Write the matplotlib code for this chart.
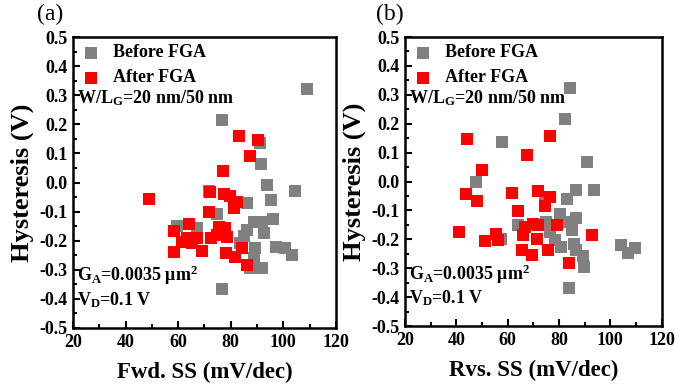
import matplotlib
matplotlib.use('Agg')
import matplotlib.pyplot as plt
from matplotlib.ticker import AutoMinorLocator, MultipleLocator

plt.rcParams['font.family'] = ['Liberation Serif', 'DejaVu Serif']
plt.rcParams['font.weight'] = 'bold'
plt.rcParams['mathtext.fontset'] = 'custom'
plt.rcParams['mathtext.rm'] = 'Liberation Serif:bold'
plt.rcParams['mathtext.bf'] = 'Liberation Serif:bold'
plt.rcParams['mathtext.it'] = 'Liberation Serif:bold:italic'

# (a) forward SS vs hysteresis
fwd_before_ss = [108.9, 76.8, 91.1, 91.4, 93.6, 104.3, 95.2, 86.0, 71.7, 74.9, 59.6, 67.2,
                 88.8, 92.0, 96.2, 86.0, 92.6, 83.7, 89.4, 97.1, 100.5, 103.4, 88.8, 87.3,
                 92.0, 76.8, 85.0]
fwd_before_hys = [0.320, 0.214, 0.135, 0.063, -0.009, -0.030, -0.060, -0.070, -0.029, -0.107,
                  -0.148, -0.158, -0.136, -0.136, -0.127, -0.164, -0.175, -0.209, -0.226,
                  -0.221, -0.225, -0.249, -0.260, -0.294, -0.294, -0.366, -0.185]
fwd_after_ss = [83.2, 90.4, 87.5, 77.0, 48.9, 72.1, 77.3, 79.9, 82.3, 81.1, 71.6, 64.0,
                58.6, 75.5, 78.0, 63.4, 67.2, 72.3, 74.9, 78.7, 65.3, 58.6, 69.1, 78.3,
                84.3, 81.8, 86.0, 61.5]
fwd_after_hys = [0.159, 0.146, 0.092, 0.039, -0.055, -0.034, -0.040, -0.047, -0.067, -0.088,
                 -0.102, -0.141, -0.168, -0.153, -0.158, -0.192, -0.192, -0.192, -0.181,
                 -0.186, -0.208, -0.238, -0.236, -0.243, -0.226, -0.255, -0.283, -0.205]

# (b) reverse SS vs hysteresis
rvs_before_ss = [84.1, 82.2, 57.7, 90.8, 47.8, 86.6, 93.6, 83.0, 80.2, 86.6, 83.4, 85.1,
                 75.1, 76.4, 78.3, 80.9, 85.9, 86.6, 89.2, 89.8, 83.7, 104.2, 107.0, 109.5,
                 64.1, 57.3, 74.4]
rvs_before_hys = [0.322, 0.218, 0.138, 0.067, -0.002, -0.028, -0.028, -0.060, -0.111, -0.126,
                  -0.140, -0.167, -0.140, -0.175, -0.203, -0.226, -0.215, -0.238, -0.257,
                  -0.295, -0.367, -0.218, -0.247, -0.230, -0.152, -0.198, -0.067]
rvs_after_ss = [44.2, 67.5, 76.4, 50.0, 43.9, 48.1, 41.0, 51.2, 55.4, 56.3, 61.5, 72.0,
                74.5, 76.4, 63.9, 66.9, 70.0, 72.0, 66.0, 71.3, 65.6, 69.4, 75.8, 79.2,
                92.7, 83.8]
rvs_after_hys = [0.147, 0.092, 0.159, 0.040, -0.042, -0.068, -0.175, -0.207, -0.180, -0.203,
                 -0.039, -0.034, -0.083, -0.054, -0.103, -0.157, -0.146, -0.152, -0.184,
                 -0.198, -0.236, -0.255, -0.238, -0.152, -0.186, -0.283]

gray = '#808080'
red = '#ff0000'

fig = plt.figure(figsize=(6.75, 3.9), dpi=100)
ax1 = fig.add_axes([0.1081, 0.159, 0.3896, 0.746])
ax2 = fig.add_axes([0.600, 0.164, 0.3803, 0.741])

panels = [
    (ax1, fwd_before_ss, fwd_before_hys, fwd_after_ss, fwd_after_hys, 'Fwd. SS (mV/dec)'),
    (ax2, rvs_before_ss, rvs_before_hys, rvs_after_ss, rvs_after_hys, 'Rvs. SS (mV/dec)'),
]

for ax, bx, by, axx, ay, xlabel in panels:
    ax.scatter(bx, by, marker='s', s=64, color=gray, linewidths=0, label='Before FGA', zorder=2)
    ax.scatter(axx, ay, marker='s', s=64, color=red, linewidths=0, label='After FGA', zorder=3)
    ax.set_xlim(20, 120)
    ax.set_ylim(-0.5, 0.5)
    ax.xaxis.set_major_locator(MultipleLocator(20))
    ax.yaxis.set_major_locator(MultipleLocator(0.1))
    ax.xaxis.set_minor_locator(AutoMinorLocator(2))
    ax.yaxis.set_minor_locator(AutoMinorLocator(2))
    ax.tick_params(which='both', direction='in', top=False, right=False, width=1.5)
    ax.tick_params(which='major', length=5, labelsize=13, pad=4)
    ax.tick_params(which='minor', length=3)
    ax.set_yticklabels(['%.1f' % v for v in ax.get_yticks()])
    for sp in ax.spines.values():
        sp.set_linewidth(1.8)
    ax.set_xlabel(xlabel, fontsize=16.5, fontweight='bold', labelpad=8)
    ax.set_ylabel('Hysteresis (V)', fontsize=19, fontweight='bold', labelpad=4)
    ax.legend(loc='upper left', frameon=False, fontsize=13, handletextpad=0.6,
              borderaxespad=0.1, labelspacing=0.45, handlelength=1.2, borderpad=0.3)
    ax.text(0.015, 0.79, 'W/L$_\\mathrm{G}$=20 nm/50 nm', transform=ax.transAxes,
            fontsize=13, fontweight='bold', va='center')
    ax.text(0.015, 0.18, 'G$_\\mathrm{A}$=0.0035 \u03bcm$^\\mathrm{2}$', transform=ax.transAxes,
            fontsize=13, fontweight='bold', va='center')
    ax.text(0.015, 0.095, 'V$_\\mathrm{D}$=0.1 V', transform=ax.transAxes,
            fontsize=13, fontweight='bold', va='center')

fig.text(37 / 675, 1 - 14 / 390, '(a)', fontsize=17, fontweight='normal', va='center')
fig.text(376 / 675, 1 - 14 / 390, '(b)', fontsize=17, fontweight='normal', va='center')

plt.savefig('out.png', dpi=100)
